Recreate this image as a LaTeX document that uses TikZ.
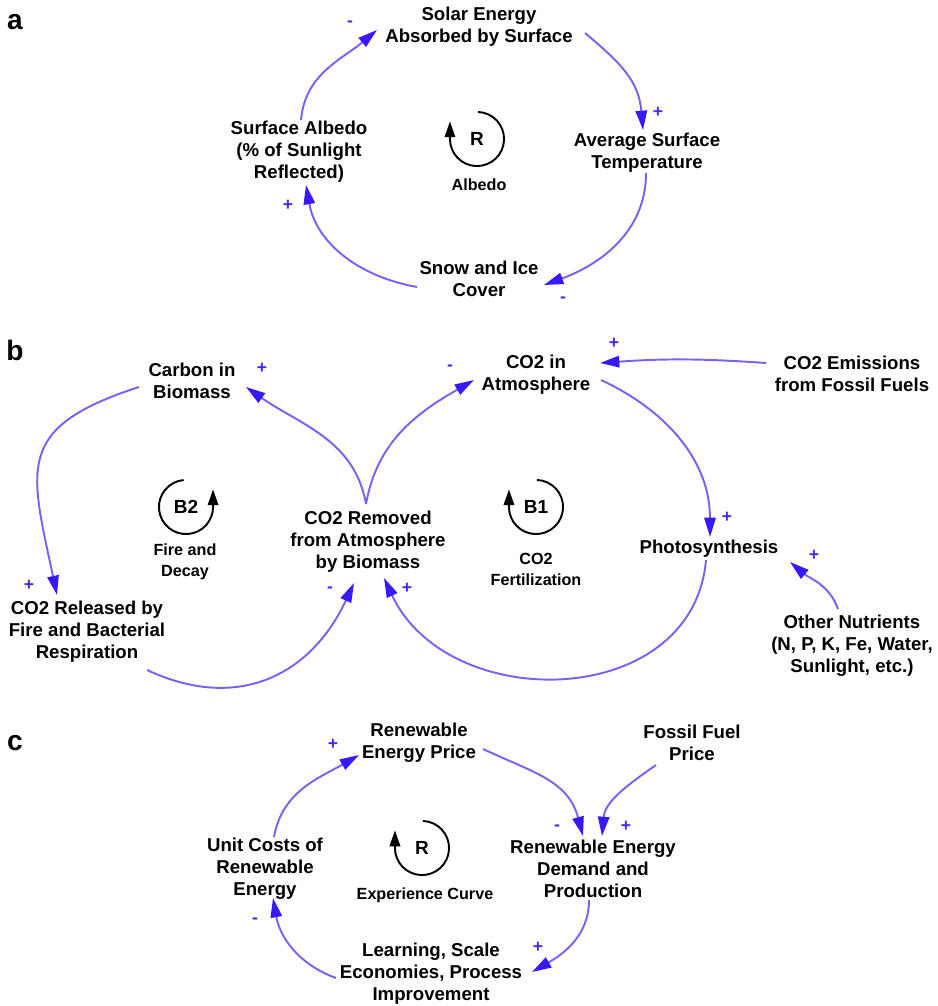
\documentclass[tikz,border=0pt]{standalone}
\usepackage{fontspec}
\setmainfont{Liberation Sans}
\usetikzlibrary{arrows.meta,calc}
\definecolor{lineblue}{RGB}{118,98,245}
\definecolor{headblue}{RGB}{55,25,255}
\definecolor{signblue}{RGB}{70,40,235}
\begin{document}
\begin{tikzpicture}[x=0.02cm,y=-0.02cm,
  lbl/.style={font=\bfseries\fontsize{10.6}{12.5}\selectfont, align=center, inner sep=0pt},
  loopname/.style={font=\bfseries\fontsize{10.8}{12}\selectfont, inner sep=0pt},
  looplbl/.style={font=\bfseries\fontsize{9.2}{12}\selectfont, align=center, inner sep=0pt},
  panel/.style={font=\bfseries\fontsize{16}{16}\selectfont, inner sep=0pt},
  sgn/.style={font=\bfseries\fontsize{10}{10}\selectfont, text=signblue, inner sep=0pt},
  link/.style={draw=lineblue, line width=1.1pt, -{Triangle[length=11pt,width=6.5pt,color=headblue]}},
  loopar/.style={draw=black, line width=1.1pt, -{Triangle[length=9pt,width=6pt]}}
]
\useasboundingbox (0,0) rectangle (937,1006);

% ---------------- panel a ----------------
\node[panel] (pa) at (15,22) {a};
\node[lbl] (solar) at (479,27) {Solar Energy\\Absorbed by Surface};
\node[lbl] (temp) at (647,153) {Average Surface\\Temperature};
\node[lbl] (snow) at (479,279) {Snow and Ice\\Cover};
\node[lbl] (albedo) at (299,152) {Surface Albedo\\(\% of Sunlight\\Reflected)};
\coordinate (rA) at (477,139);
\node[loopname] (rAt) at (rA) {R};
\node[looplbl] (rAl) at (479,185) {Albedo};
\draw[loopar] ($(rA)+(88:15.4pt)$) arc[start angle=88, end angle=-180, radius=15.4pt] -- ++(0,10pt);

\draw[link] ($(solar)+(106,6)$) to[out=-40,in=95,looseness=1.1] ($(temp)+(-4,-23)$);
\draw[link] ($(temp)+(-1,20)$) to[out=-90,in=20] ($(snow)+(65,6)$);
\draw[link] ($(snow)+(-62,8)$) to[out=170,in=-80] ($(albedo)+(7,33)$);
\draw[link] ($(albedo)+(2,-32)$) to[out=85,in=220] ($(solar)+(-102,3)$);

\node[sgn] (sa1) at (350,24) {-};
\node[sgn] (sa2) at (658,112) {+};
\node[sgn] (sa3) at (563,300) {-};
\node[sgn] (sa4) at (288,205) {+};

% ---------------- panel b ----------------
\node[panel] (pb) at (15,350) {b};
\node[lbl] (carbon) at (192,381) {Carbon in\\Biomass};
\node[lbl] (co2atm) at (536,375) {CO2 in\\Atmosphere};
\node[lbl] (emis) at (852,374) {CO2 Emissions\\from Fossil Fuels};
\node[lbl] (removed) at (368,542) {CO2 Removed\\from Atmosphere\\by Biomass};
\node[lbl] (photo) at (709,549) {Photosynthesis};
\node[lbl] (released) at (87,632) {CO2 Released by\\Fire and Bacterial\\Respiration};
\node[lbl] (nutr) at (852,646) {Other Nutrients\\(N, P, K, Fe, Water,\\Sunlight, etc.)};

\coordinate (bB2) at (186,507);
\node[loopname] (bB2t) at (bB2) {B2};
\node[looplbl] (bB2l) at (185,562) {Fire and\\Decay};
\draw[loopar] ($(bB2)+(95:15.4pt)$) arc[start angle=95, end angle=360, radius=15.4pt] -- ++(0,10pt);

\coordinate (bB1) at (536,507);
\node[loopname] (bB1t) at (bB1) {B1};
\node[looplbl] (bB1l) at (536,569) {CO2\\Fertilization};
\draw[loopar] ($(bB1)+(88:15.4pt)$) arc[start angle=88, end angle=-180, radius=15.4pt] -- ++(0,10pt);

\draw[link] ($(carbon)+(-53,6)$) to[out=198,in=102,looseness=1.5] ($(released)+(-30,-37)$);
\draw[link] ($(released)+(60,38)$) to[out=-25,in=-115,looseness=1.15] ($(removed)+(-14,41)$);
\draw[link] ($(removed)+(-2,-38)$) to[out=100,in=-35] ($(carbon)+(54,6)$);
\draw[link] ($(removed)+(-2,-38)$) to[out=80,in=-150] ($(co2atm)+(-62,5)$);
\draw[link] ($(co2atm)+(65,5)$) to[out=-25,in=90] ($(photo)+(1,-12)$);
\draw[link] ($(photo)+(-3,11)$) to[out=-95,in=-65,looseness=1.2] ($(removed)+(16,36)$);
\draw[link] ($(emis)+(-86,-11)$) to[bend right=4] ($(co2atm)+(64,-12)$);
\draw[link] ($(nutr)+(-14,-37)$) to[out=110,in=-40] ($(photo)+(81,13)$);

\node[sgn] (sb1) at (29,585) {+};
\node[sgn] (sb2) at (330,590) {-};
\node[sgn] (sb3) at (262,368) {+};
\node[sgn] (sb4) at (450,368) {-};
\node[sgn] (sb5) at (727,517) {+};
\node[sgn] (sb6) at (407,588) {+};
\node[sgn] (sb7) at (614,343) {+};
\node[sgn] (sb8) at (814,555) {+};

% ---------------- panel c ----------------
\node[panel] (pc) at (15,743) {c};
\node[lbl] (price) at (419,743) {Renewable\\Energy Price};
\node[lbl] (fossil) at (692,743) {Fossil Fuel\\Price};
\node[lbl] (unit) at (265,869) {Unit Costs of\\Renewable\\Energy};
\node[lbl] (demand) at (593,869) {Renewable Energy\\Demand and\\Production};
\node[lbl] (learn) at (431,974) {Learning, Scale\\Economies, Process\\Improvement};

\coordinate (rC) at (422,848);
\node[loopname] (rCt) at (rC) {R};
\node[looplbl] (rCl) at (425,895) {Experience Curve};
\draw[loopar] ($(rC)+(88:15.4pt)$) arc[start angle=88, end angle=-180, radius=15.4pt] -- ++(0,10pt);

\draw[link] ($(price)+(64,6)$) to[out=-25,in=105,looseness=1.1] ($(demand)+(-10,-33)$);
\draw[link] ($(fossil)+(-36,22)$) to[out=-145,in=85] ($(demand)+(9,-33)$);
\draw[link] ($(demand)+(-4,31)$) to[out=-90,in=30] ($(learn)+(101,-2)$);
\draw[link] ($(learn)+(-95,4)$) to[out=160,in=-80] ($(unit)+(8,29)$);
\draw[link] ($(unit)+(9,-32)$) to[out=80,in=-150] ($(price)+(-60,12)$);

\node[sgn] (sc1) at (557,828) {-};
\node[sgn] (sc2) at (626,826) {+};
\node[sgn] (sc3) at (538,947) {+};
\node[sgn] (sc4) at (255,921) {-};
\node[sgn] (sc5) at (333,744) {+};
\end{tikzpicture}
\end{document}
